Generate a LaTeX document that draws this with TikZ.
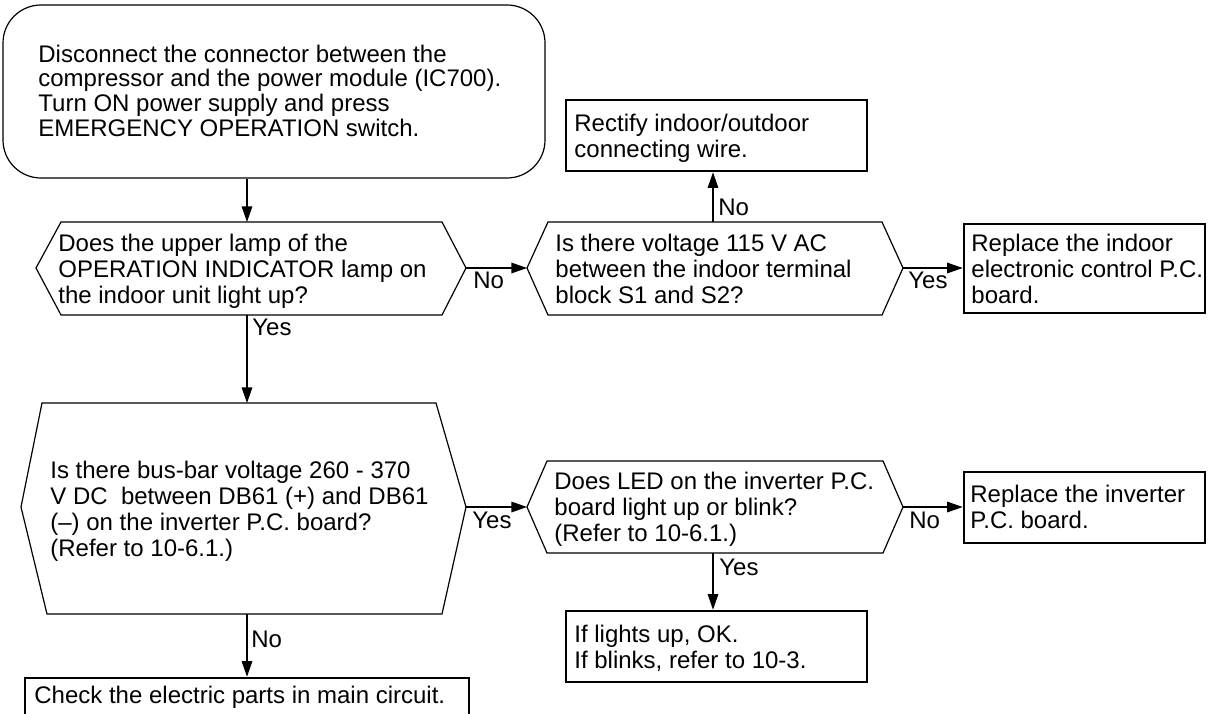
\documentclass[tikz,border=0pt]{standalone}
\usepackage{fontspec}
\setmainfont{Liberation Sans}
\usetikzlibrary{arrows.meta}
\newcommand\tl[1]{\begin{tabular}[t]{@{}l@{}}#1\end{tabular}}
\begin{document}
\begin{tikzpicture}[x=0.5pt,y=-0.5pt,
  thinline/.style={line width=0.6pt},
  arr/.style={line width=0.6pt,-{Triangle[length=7.8pt,width=5.3pt]}},
  txt/.style={inner sep=0pt,anchor=base west,font=\fontsize{12}{13}\selectfont},
  resbox/.style={draw,line width=1.3pt,inner sep=0pt},
]
\useasboundingbox (0,0) rectangle (1208,713);

% start box
\node[draw,line width=0.6pt,rounded corners=19pt,inner sep=0pt,minimum width=271pt,minimum height=86.5pt] (start) at (274,91.5) {};
\node[txt,font=\fontsize{12}{12.2}\selectfont] (starttext) at (38,62) {\tl{Disconnect the connector between the\\compressor and the power module (IC700).\\Turn ON power supply and press\\EMERGENCY OPERATION switch.}};

% decision 1
\coordinate (d1w) at (36,268); \coordinate (d1e) at (466,268);
\coordinate (d1n) at (247,222); \coordinate (d1s) at (247,315);
\draw[thinline] (d1w) -- (61,222) -- (442,222) -- (d1e) -- (442,315) -- (61,315) -- cycle;
\node[txt] (d1text) at (58,251) {\tl{Does the upper lamp of the\\OPERATION INDICATOR lamp on\\the indoor unit light up?}};

% decision 2
\coordinate (d2w) at (527,268); \coordinate (d2e) at (903,268);
\coordinate (d2n) at (713,222);
\draw[thinline] (d2w) -- (548,222) -- (882,222) -- (d2e) -- (882,315) -- (548,315) -- cycle;
\node[txt] (d2text) at (555,251) {\tl{Is there voltage 115 V AC\\between the indoor terminal\\block S1 and S2?}};

% rectify box
\node[resbox,minimum width=150.5pt,minimum height=35.5pt] (rect) at (716.5,135.5) {};
\node[txt] (recttext) at (574,131) {\tl{Rectify indoor/outdoor\\connecting wire.}};

% replace indoor
\node[resbox,minimum width=120.5pt,minimum height=44.5pt] (rind) at (1084.5,268.5) {};
\node[txt] (rindtext) at (971,251) {\tl{Replace the indoor\\electronic control P.C.\\board.}};

% decision 3
\coordinate (d3w) at (21,507); \coordinate (d3e) at (466,507);
\coordinate (d3n) at (247,403); \coordinate (d3s) at (247,614);
\draw[thinline] (d3w) -- (42,403) -- (436,403) -- (d3e) -- (442,614) -- (47,614) -- cycle;
\node[txt] (d3text) at (50,478) {\tl{Is there bus-bar voltage 260 - 370\\V DC\ \ between DB61 (+) and DB61\\(--) on the inverter P.C. board?\\(Refer to 10-6.1.)}};

% decision 4
\coordinate (d4w) at (527,507); \coordinate (d4e) at (903,507);
\coordinate (d4s) at (713,553);
\draw[thinline] (d4w) -- (547,461) -- (883,461) -- (d4e) -- (883,553) -- (547,553) -- cycle;
\node[txt] (d4text) at (554,489) {\tl{Does LED on the inverter P.C.\\board light up or blink?\\(Refer to 10-6.1.)}};

% replace inverter
\node[resbox,minimum width=120.5pt,minimum height=35.5pt] (rinv) at (1084.5,507.5) {};
\node[txt] (rinvtext) at (970,502) {\tl{Replace the inverter\\P.C. board.}};

% if lights box
\node[resbox,minimum width=150.5pt,minimum height=35.5pt] (ifb) at (716.5,646.5) {};
\node[txt] (ifbtext) at (574,642) {\tl{If lights up, OK.\\If blinks, refer to 10-3.}};

% check box
\node[resbox,minimum width=222pt,minimum height=22pt] (chk) at (247,700) {};
\node[txt] (chktext) at (34,703) {Check the electric parts in main circuit.};

% connectors
\draw[arr] (d1n |- start.south) -- (d1n);
\draw[arr] (d1s) -- (d3n);
\node[txt] (l1) at (252,335) {Yes};
\draw[arr] (d1e) -- (d2w);
\node[txt] (l2) at (473,288) {No};
\draw[arr] (d2n) -- (d2n |- rect.south);
\node[txt] (l3) at (718,215) {No};
\draw[arr] (d2e) -- (d2e -| rind.west);
\node[txt] (l4) at (908,288) {Yes};
\draw[arr] (d3e) -- (d4w);
\node[txt] (l5) at (472,528) {Yes};
\draw[arr] (d4e) -- (d4e -| rinv.west);
\node[txt] (l6) at (909,528) {No};
\draw[arr] (d4s) -- (d4s |- ifb.north);
\node[txt] (l7) at (719,575) {Yes};
\draw[arr] (d3s) -- (d3s |- chk.north);
\node[txt] (l8) at (251,647) {No};
\end{tikzpicture}
\end{document}
